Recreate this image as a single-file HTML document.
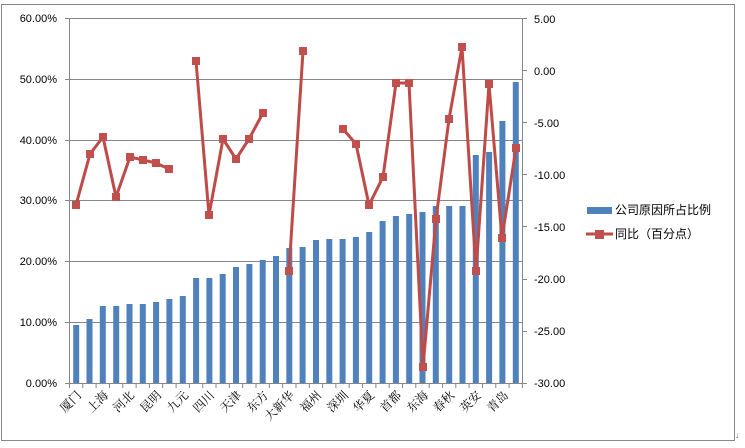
<!DOCTYPE html>
<html><head><meta charset="utf-8"><style>
html,body{margin:0;padding:0;background:#fff;}
svg{display:block;}
text{font-family:"Liberation Sans","Noto Sans CJK SC",sans-serif;font-size:11px;fill:#000;}
.cat{font-family:"Liberation Serif","Noto Serif CJK SC",serif;font-size:12px;}
</style></head><body>
<svg width="745" height="448" viewBox="0 0 745 448" xmlns="http://www.w3.org/2000/svg">
<rect x="0" y="0" width="745" height="448" fill="#fff"/>
<rect x="1.5" y="4.5" width="733" height="436" fill="none" stroke="#888" stroke-width="1"/>
<g stroke="#868686" stroke-width="1">
<line x1="69.5" y1="18.5" x2="522" y2="18.5"/>
<line x1="69.5" y1="79.5" x2="522" y2="79.5"/>
<line x1="69.5" y1="140.5" x2="522" y2="140.5"/>
<line x1="69.5" y1="200.5" x2="522" y2="200.5"/>
<line x1="69.5" y1="261.5" x2="522" y2="261.5"/>
<line x1="69.5" y1="322.5" x2="522" y2="322.5"/>
<line x1="69.5" y1="383.5" x2="522" y2="383.5"/>
<line x1="69.5" y1="18" x2="69.5" y2="383"/>
<line x1="522.5" y1="18" x2="522.5" y2="383"/>
</g>
<g stroke="#868686" stroke-width="1">
<line x1="65" y1="18.5" x2="69.5" y2="18.5"/><line x1="65" y1="79.5" x2="69.5" y2="79.5"/><line x1="65" y1="140.5" x2="69.5" y2="140.5"/><line x1="65" y1="200.5" x2="69.5" y2="200.5"/><line x1="65" y1="261.5" x2="69.5" y2="261.5"/><line x1="65" y1="322.5" x2="69.5" y2="322.5"/><line x1="65" y1="383.5" x2="69.5" y2="383.5"/>
<line x1="522" y1="18.5" x2="527" y2="18.5"/><line x1="522" y1="70.5" x2="527" y2="70.5"/><line x1="522" y1="122.5" x2="527" y2="122.5"/><line x1="522" y1="174.5" x2="527" y2="174.5"/><line x1="522" y1="226.5" x2="527" y2="226.5"/><line x1="522" y1="279.5" x2="527" y2="279.5"/><line x1="522" y1="331.5" x2="527" y2="331.5"/><line x1="522" y1="383.5" x2="527" y2="383.5"/>
</g>
<g stroke="#868686" stroke-width="1">
<line x1="69.5" y1="383" x2="69.5" y2="388"/><line x1="82.8" y1="383" x2="82.8" y2="388"/><line x1="96.1" y1="383" x2="96.1" y2="388"/><line x1="109.5" y1="383" x2="109.5" y2="388"/><line x1="122.8" y1="383" x2="122.8" y2="388"/><line x1="136.1" y1="383" x2="136.1" y2="388"/><line x1="149.4" y1="383" x2="149.4" y2="388"/><line x1="162.7" y1="383" x2="162.7" y2="388"/><line x1="176.1" y1="383" x2="176.1" y2="388"/><line x1="189.4" y1="383" x2="189.4" y2="388"/><line x1="202.7" y1="383" x2="202.7" y2="388"/><line x1="216" y1="383" x2="216" y2="388"/><line x1="229.3" y1="383" x2="229.3" y2="388"/><line x1="242.7" y1="383" x2="242.7" y2="388"/><line x1="256" y1="383" x2="256" y2="388"/><line x1="269.3" y1="383" x2="269.3" y2="388"/><line x1="282.6" y1="383" x2="282.6" y2="388"/><line x1="296" y1="383" x2="296" y2="388"/><line x1="309.3" y1="383" x2="309.3" y2="388"/><line x1="322.6" y1="383" x2="322.6" y2="388"/><line x1="335.9" y1="383" x2="335.9" y2="388"/><line x1="349.2" y1="383" x2="349.2" y2="388"/><line x1="362.6" y1="383" x2="362.6" y2="388"/><line x1="375.9" y1="383" x2="375.9" y2="388"/><line x1="389.2" y1="383" x2="389.2" y2="388"/><line x1="402.5" y1="383" x2="402.5" y2="388"/><line x1="415.8" y1="383" x2="415.8" y2="388"/><line x1="429.2" y1="383" x2="429.2" y2="388"/><line x1="442.5" y1="383" x2="442.5" y2="388"/><line x1="455.8" y1="383" x2="455.8" y2="388"/><line x1="469.1" y1="383" x2="469.1" y2="388"/><line x1="482.5" y1="383" x2="482.5" y2="388"/><line x1="495.8" y1="383" x2="495.8" y2="388"/><line x1="509.1" y1="383" x2="509.1" y2="388"/><line x1="522.4" y1="383" x2="522.4" y2="388"/>
</g>
<g fill="#4f81bd">
<rect x="73.2" y="325" width="6" height="58"/>
<rect x="86.5" y="319" width="6" height="64"/>
<rect x="99.8" y="306" width="6" height="77"/>
<rect x="113.2" y="306" width="6" height="77"/>
<rect x="126.5" y="304" width="6" height="79"/>
<rect x="139.8" y="304" width="6" height="79"/>
<rect x="153.1" y="302" width="6" height="81"/>
<rect x="166.4" y="299" width="6" height="84"/>
<rect x="179.8" y="296" width="6" height="87"/>
<rect x="193.1" y="278" width="6" height="105"/>
<rect x="206.4" y="278" width="6" height="105"/>
<rect x="219.7" y="274" width="6" height="109"/>
<rect x="233" y="267" width="6" height="116"/>
<rect x="246.4" y="264" width="6" height="119"/>
<rect x="259.7" y="260" width="6" height="123"/>
<rect x="273" y="256" width="6" height="127"/>
<rect x="286.3" y="248" width="6" height="135"/>
<rect x="299.6" y="247" width="6" height="136"/>
<rect x="313" y="240" width="6" height="143"/>
<rect x="326.3" y="239" width="6" height="144"/>
<rect x="339.6" y="239" width="6" height="144"/>
<rect x="352.9" y="237" width="6" height="146"/>
<rect x="366.2" y="232" width="6" height="151"/>
<rect x="379.6" y="221" width="6" height="162"/>
<rect x="392.9" y="216" width="6" height="167"/>
<rect x="406.2" y="214" width="6" height="169"/>
<rect x="419.5" y="212" width="6" height="171"/>
<rect x="432.8" y="206" width="6" height="177"/>
<rect x="446.2" y="206" width="6" height="177"/>
<rect x="459.5" y="206" width="6" height="177"/>
<rect x="472.8" y="155" width="6" height="228"/>
<rect x="486.1" y="152" width="6" height="231"/>
<rect x="499.4" y="121" width="6" height="262"/>
<rect x="512.8" y="82" width="6" height="301"/>
</g>
<g fill="none" stroke="#be4b48" stroke-width="3" stroke-linejoin="round">
<polyline points="76,205 90,154 103,137 116,197 130,157 143,160 156,163 169,169"/>
<polyline points="196,61 209,215 223,139 236,159 249,139 263,113"/>
<polyline points="289,271 303,51"/>
<polyline points="343,129 356,144 369,205 383,177 396,83 409,83 423,367 436,219 449,119 462,47 476,271 489,84 502,238 516,148"/>
</g>
<g fill="#c0504d">
<rect x="72" y="201" width="8" height="8"/><rect x="86" y="150" width="8" height="8"/><rect x="99" y="133" width="8" height="8"/><rect x="112" y="193" width="8" height="8"/><rect x="126" y="153" width="8" height="8"/><rect x="139" y="156" width="8" height="8"/><rect x="152" y="159" width="8" height="8"/><rect x="165" y="165" width="8" height="8"/>
<rect x="192" y="57" width="8" height="8"/><rect x="205" y="211" width="8" height="8"/><rect x="219" y="135" width="8" height="8"/><rect x="232" y="155" width="8" height="8"/><rect x="245" y="135" width="8" height="8"/><rect x="259" y="109" width="8" height="8"/>
<rect x="285" y="267" width="8" height="8"/><rect x="299" y="47" width="8" height="8"/>
<rect x="339" y="125" width="8" height="8"/><rect x="352" y="140" width="8" height="8"/><rect x="365" y="201" width="8" height="8"/><rect x="379" y="173" width="8" height="8"/><rect x="392" y="79" width="8" height="8"/><rect x="405" y="79" width="8" height="8"/><rect x="419" y="363" width="8" height="8"/><rect x="432" y="215" width="8" height="8"/><rect x="445" y="115" width="8" height="8"/><rect x="458" y="43" width="8" height="8"/><rect x="472" y="267" width="8" height="8"/><rect x="485" y="80" width="8" height="8"/><rect x="498" y="234" width="8" height="8"/><rect x="512" y="144" width="8" height="8"/>
</g>
<g text-anchor="end">
<text x="57" y="22">60.00%</text><text x="57" y="83">50.00%</text><text x="57" y="144">40.00%</text><text x="57" y="204">30.00%</text><text x="57" y="265">20.00%</text><text x="57" y="326">10.00%</text><text x="57" y="387">0.00%</text>
</g>
<g>
<text x="534" y="23">5.00</text><text x="534" y="75">0.00</text><text x="534" y="127">-5.00</text><text x="534" y="179">-10.00</text><text x="534" y="231">-15.00</text><text x="534" y="283">-20.00</text><text x="534" y="335">-25.00</text><text x="534" y="387">-30.00</text>
</g>
<g class="cat" text-anchor="end">
<text class="cat" transform="translate(82,396) rotate(-45)">厦门</text>
<text class="cat" transform="translate(109,396) rotate(-45)">上海</text>
<text class="cat" transform="translate(135,396) rotate(-45)">河北</text>
<text class="cat" transform="translate(162,396) rotate(-45)">昆明</text>
<text class="cat" transform="translate(189,396) rotate(-45)">九元</text>
<text class="cat" transform="translate(215,396) rotate(-45)">四川</text>
<text class="cat" transform="translate(242,396) rotate(-45)">天津</text>
<text class="cat" transform="translate(269,396) rotate(-45)">东方</text>
<text class="cat" transform="translate(295,396) rotate(-45)">大新华</text>
<text class="cat" transform="translate(322,396) rotate(-45)">福州</text>
<text class="cat" transform="translate(349,396) rotate(-45)">深圳</text>
<text class="cat" transform="translate(375,396) rotate(-45)">华夏</text>
<text class="cat" transform="translate(402,396) rotate(-45)">首都</text>
<text class="cat" transform="translate(429,396) rotate(-45)">东海</text>
<text class="cat" transform="translate(455,396) rotate(-45)">春秋</text>
<text class="cat" transform="translate(482,396) rotate(-45)">英安</text>
<text class="cat" transform="translate(509,396) rotate(-45)">青岛</text>
</g>
<rect x="587" y="207" width="25" height="7" fill="#4f81bd"/>
<text x="615" y="214" style="font-size:12px">公司原因所占比例</text>
<line x1="586" y1="234" x2="613" y2="234" stroke="#be4b48" stroke-width="3"/>
<rect x="595" y="230" width="9" height="9" fill="#c0504d"/>
<text x="615" y="238" style="font-size:12px">同比（百分点）</text>
<text x="735" y="438" style="font-size:9px;fill:#666">↓</text>
</svg>
</body></html>
